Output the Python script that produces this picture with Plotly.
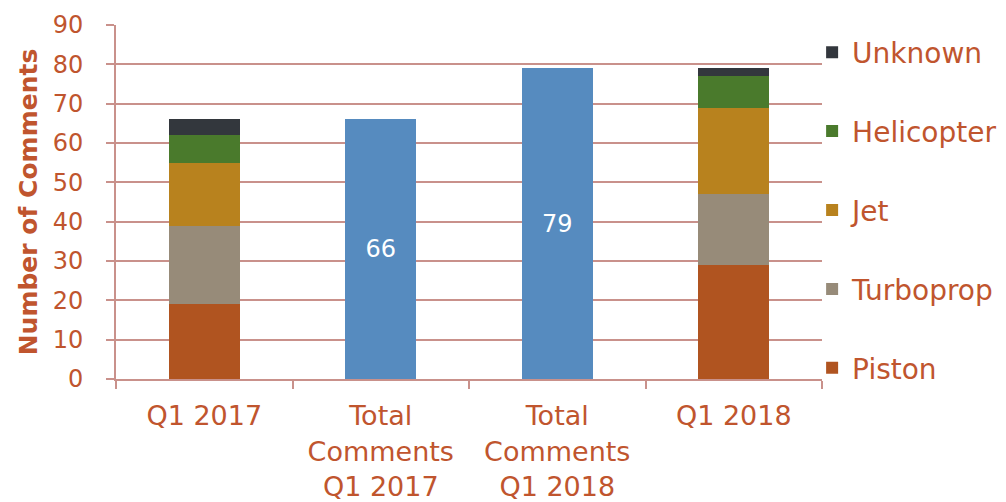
import plotly.graph_objects as go

categories = ["Q1 2017", "Total<br>Comments<br>Q1 2017", "Total<br>Comments<br>Q1 2018", "Q1 2018"]
period_cats = ["Q1 2017", "Q1 2018"]
total_cats = ["Total<br>Comments<br>Q1 2017", "Total<br>Comments<br>Q1 2018"]

piston = [19, 29]
turboprop = [20, 18]
jet = [16, 22]
helicopter = [7, 8]
unknown = [4, 2]
totals = [66, 79]

series = [
    ("Piston", piston, "#B05420"),
    ("Turboprop", turboprop, "#978B79"),
    ("Jet", jet, "#B8821E"),
    ("Helicopter", helicopter, "#4A7A2C"),
    ("Unknown", unknown, "#33373D"),
]

text_color = "#C0552E"
grid_color = "#C9918B"
font_family = "DejaVu Sans"

fig = go.Figure()
n = len(series)
for i, (name, vals, color) in enumerate(series):
    fig.add_trace(go.Bar(
        x=period_cats, y=vals, name=name, legendgroup=name,
        legendrank=n - i,
        marker=dict(color=color, line=dict(width=0)),
    ))

fig.add_trace(go.Bar(
    x=total_cats, y=totals, name="Total", showlegend=False,
    marker=dict(color="#568BBF", line=dict(width=0)),
    text=[str(v) for v in totals], textposition="inside",
    insidetextanchor="middle",
    textfont=dict(color="white", size=24, family=font_family),
))

fig.update_layout(
    barmode="stack",
    bargap=0.6,
    width=1006, height=502,
    margin=dict(l=108, r=192, t=17, b=131),
    paper_bgcolor="white", plot_bgcolor="white",
    font=dict(family=font_family, color=text_color, size=24),
    legend=dict(
        x=0.986, xanchor="left", y=0.993, yanchor="top",
        traceorder="grouped", tracegroupgap=39.5,
        font=dict(size=28, color=text_color),
        bgcolor="rgba(0,0,0,0)",
        itemwidth=30, maxheight=600,
    ),
    xaxis=dict(
        categoryorder="array", categoryarray=categories,
        showline=True, linecolor=grid_color, linewidth=2,
        ticks="outside", tickson="boundaries", ticklen=8, tickcolor=grid_color, tickwidth=2,
        tickfont=dict(size=27, color=text_color),
        ticklabelstandoff=12,
        showgrid=False, automargin=False,
    ),
    yaxis=dict(
        range=[0, 90], dtick=10,
        showline=True, linecolor=grid_color, linewidth=2,
        ticks="outside", ticklen=8, tickcolor=grid_color, tickwidth=2,
        showgrid=True, gridcolor=grid_color, gridwidth=2,
        zeroline=False, automargin=False,
        tickfont=dict(size=24, color=text_color),
        ticklabelstandoff=18,
        title=dict(text="<b>Number of Comments</b>", font=dict(size=25, color=text_color), standoff=8),
    ),
)

fig.write_html("out.html")
